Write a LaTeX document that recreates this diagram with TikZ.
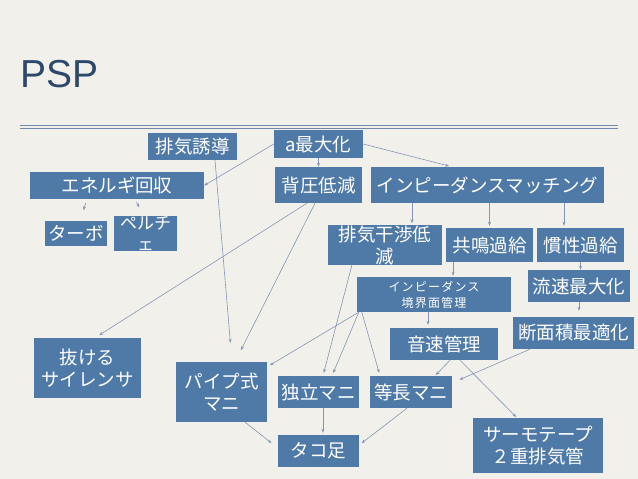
\documentclass[tikz,border=0pt]{standalone}
\usepackage{fontspec}
\usetikzlibrary{arrows.meta}
\setmainfont{Noto Sans CJK JP}
\newfontfamily\titlefont{Liberation Sans}
\definecolor{paper}{RGB}{242,240,235}
\definecolor{boxblue}{RGB}{79,122,167}
\definecolor{linkgray}{RGB}{132,150,179}
\definecolor{rulecol}{RGB}{112,136,170}
\definecolor{titlecol}{RGB}{44,72,106}
\begin{document}
\begin{tikzpicture}[>={Stealth[length=4pt,width=3pt]}, x=1pt, y=-1pt,
  box/.style={fill=boxblue, text=white, inner sep=0pt, align=center,
    font=\fontsize{18.5}{22}\selectfont},
  sz/.style 2 args={minimum width=#1pt, minimum height=#2pt},
  link/.style={->, draw=linkgray, line width=0.6pt}]
\useasboundingbox (0,0) rectangle (638,479);
\fill[paper] (0,0) rectangle (638,479);
\node[anchor=base west, text=titlecol, inner sep=0pt,
  font=\titlefont\fontsize{39}{40}\selectfont] (title) at (20,87) {PSP};
\draw[rulecol, line width=0.8pt] (20,125) -- (618,125) (20,128) -- (618,128);
% top row
\node[box, sz={89}{27}] (yuudou) at (192.5,146.5) {排気誘導};
\node[box, sz={89}{28}] (amax) at (318.5,144) {a最大化};
\node[box, sz={174}{27}] (energy) at (117,185.5) {エネルギ回収};
\node[box, sz={87}{36}] (backp) at (318.5,185) {背圧低減};
\node[box, sz={233}{36}] (imatch) at (487.5,185) {インピーダンスマッチング};
\node[box, sz={62}{25}] (turbo) at (76,233.5) {ターボ};
\node[box, sz={63}{25}, font=\fontsize{17}{21}\selectfont] (peltier) at (145.5,233.5) {ペルチ\\ェ};
% middle
\node[box, sz={114}{34}] (kanshou) at (385,245) {排気干渉低\\減};
\node[box, sz={87}{34}] (kyoumei) at (489.5,245) {共鳴過給};
\node[box, sz={87}{34}] (kansei) at (580.5,245) {慣性過給};
\node[box, sz={154}{35}, font=\fontsize{12}{16}\selectfont\addfontfeature{LetterSpace=10}] (kyoukai) at (434,294.5) {インピーダンス\\境界面管理};
\node[box, sz={102}{32}] (ryuusoku) at (579,286) {流速最大化};
\node[box, sz={121}{32}] (danmen) at (573.5,333) {断面積最適化};
\node[box, sz={108}{32}] (onsoku) at (444,344) {音速管理};
% bottom
\node[box, sz={107}{60}] (silencer) at (87.5,368) {抜ける\\サイレンサ};
\node[box, sz={91}{60}] (pipe) at (221.5,392) {パイプ式\\マニ};
\node[box, sz={81}{32}] (dokuritsu) at (318.5,392) {独立マニ};
\node[box, sz={82}{32}] (touchou) at (411,392) {等長マニ};
\node[box, sz={81}{32}] (tako) at (318.5,451) {タコ足};
\node[box, sz={130}{55}] (thermo) at (538,445.5) {サーモテープ\\２重排気管};
% connectors
\draw[link] (amax.west) -- (energy.east);
\draw[link] (amax.south) -- (backp.north);
\draw[link, shorten >=3pt] (amax.east) -- ([xshift=-35.5pt]imatch.north);
\draw[link, shorten <=4pt, shorten >=11pt] ([xshift=-30pt]energy.south) -- ([xshift=4pt]turbo.north);
\draw[link, shorten <=3pt, shorten >=10pt] ([xshift=18pt]energy.south) -- ([xshift=-1.5pt]peltier.north);
\draw[link, shorten >=19pt] ([xshift=22.5pt]yuudou.south) -- ([xshift=10.5pt]pipe.north);
\draw[link, shorten >=5pt] ([xshift=-11.5pt]backp.south) -- ([xshift=7.5pt]silencer.north);
\draw[link, shorten >=13pt] ([xshift=-3.5pt]backp.south) -- ([xshift=13.5pt]pipe.north);
\draw[link, shorten >=2pt] ([xshift=-75.5pt]imatch.south) -- ([xshift=27pt]kanshou.north);
\draw[link, shorten >=2pt] (kyoumei.north |- imatch.south) -- (kyoumei.north);
\draw[link, shorten >=2pt] ([xshift=-16.5pt]kansei.north |- imatch.south) -- ([xshift=-16.5pt]kansei.north);
\draw[link, shorten >=1pt] ([xshift=19pt]kyoukai.north |- kyoumei.south) -- ([xshift=19pt]kyoukai.north);
\draw[link] (kansei.south) -- (kansei.south |- ryuusoku.north);
\draw[link, shorten >=6pt] (ryuusoku.south) -- (ryuusoku.south |- danmen.north);
\draw[link, shorten >=3pt] ([xshift=-6pt]kyoukai.south) -- ([xshift=-16pt]onsoku.north);
\draw[link, shorten >=3pt] ([xshift=-33pt]kanshou.south) -- ([xshift=4.5pt]dokuritsu.north);
\draw[link, shorten >=3pt] ([xshift=2pt]kyoukai.south west) -- ([yshift=-5pt]pipe.north east);
\draw[link, shorten >=3pt] ([xshift=2pt]kyoukai.south west) -- ([xshift=13.5pt]dokuritsu.north);
\draw[link, shorten >=3pt] ([xshift=5pt]kyoukai.south west) -- ([xshift=-31pt]touchou.north);
\draw[link, shorten >=1pt] ([xshift=6pt]onsoku.south) -- ([xshift=24pt]touchou.north);
\draw[link, shorten >=1pt] ([xshift=16pt]onsoku.south) -- ([xshift=-21pt]thermo.north);
\draw[link, shorten >=8pt] ([xshift=-43.5pt]danmen.south) -- ([yshift=-7pt]touchou.north east);
\draw[link, shorten >=2pt] ([xshift=4.5pt]dokuritsu.south) -- ([xshift=4.5pt]tako.north);
\draw[link, shorten >=3pt] ([xshift=-4pt]touchou.south) -- ([yshift=6pt]tako.east);
\draw[link, shorten >=8pt] ([xshift=23.5pt]pipe.south) -- ([yshift=3pt]tako.west);
\end{tikzpicture}
\end{document}
